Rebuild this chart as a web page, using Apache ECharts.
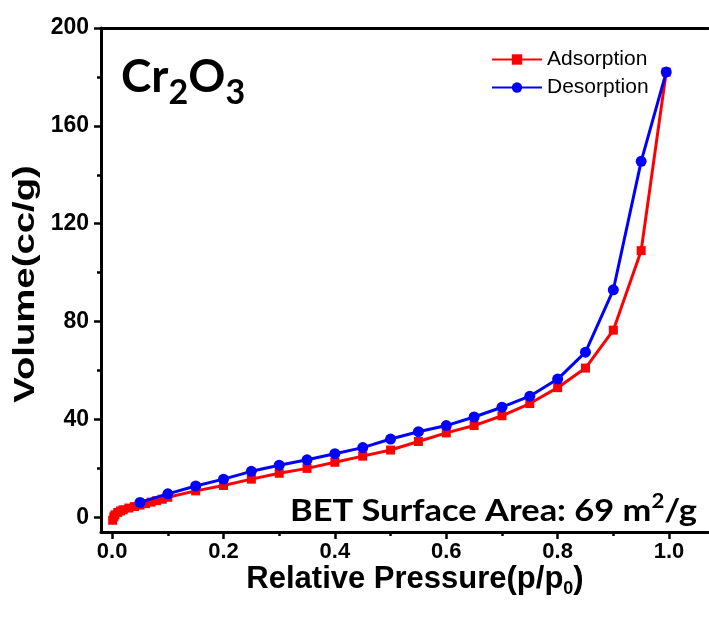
<!DOCTYPE html>
<html>
<head>
<meta charset="utf-8">
<script src="https://cdn.jsdelivr.net/npm/echarts@6/dist/echarts.min.js"></script>
<style>html,body{margin:0;padding:0;background:#fff}#c{width:709px;height:625px}</style>
</head>
<body>
<div id="c"></div>
<script>
// ---- data ----
const pressureAds = [0.001,0.003,0.005,0.01,0.015,0.02,0.03,0.04,0.05,0.06,0.07,0.08,0.09,0.1,0.15,0.2,0.25,0.3,0.35,0.4,0.45,0.5,0.55,0.6,0.65,0.7,0.75,0.8,0.85,0.9,0.95,0.995];
const volumeAds   = [-1.2,0.2,1,2,2.6,3.1,3.8,4.4,5,5.6,6.2,6.8,7.4,8.2,10.8,13,15.6,18,20,22.5,25,27.5,31,34.5,37.5,41.5,46.5,53,61,76.5,109,182];
const pressureDes = [0.995,0.95,0.9,0.85,0.8,0.75,0.7,0.65,0.6,0.55,0.5,0.45,0.4,0.35,0.3,0.25,0.2,0.15,0.1,0.05];
const volumeDes   = [182,145.5,93,67.5,56.5,49.5,45,41,37.5,35,32,28.5,26,23.5,21.3,18.8,15.6,12.8,9.6,6.1];
const xMajorTicks = [0,0.2,0.4,0.6,0.8,1.0];
const xMinorTicks = [0.1,0.3,0.5,0.7,0.9];
const yMajorTicks = [0,40,80,120,160,200];
const yMinorTicks = [20,60,100,140,180];
const seriesNames = ['Adsorption','Desorption'];
const xTitle = 'Relative Pressure(p/p{s|0})';
const yTitle = 'Volume(cc/g)';
const sampleLabel = 'Cr{s|2}O{s|3}';
const betLabel = 'BET Surface Area: 69 m{p|2}/g';

const chart = echarts.init(document.getElementById('c'), null, {renderer:'canvas'});
const AX = '"Liberation Sans", Arial, sans-serif';
const CAL = 'Lato, "Open Sans", sans-serif';
const grid = {left:101, top:28, right:1, bottom:93, outerBoundsMode:'none', containLabel:false};
const xr = {min:-0.02, max:1.07};
const yr = {min:-6, max:200};
const lineBlack = {show:true, onZero:false, lineStyle:{color:'#000', width:3}};
const tickStyle = {color:'#000', width:2.5};

function pairs(xs, ys){ return xs.map((x,i)=>[x, ys[i]]); }

chart.setOption({
  animation:false,
  backgroundColor:'#fff',
  grid: grid,
  legend:{
    orient:'vertical', left:486, top:44, itemWidth:50, itemHeight:13, itemGap:7,
    textStyle:{fontFamily:AX, fontSize:21, color:'#000'},
    data: seriesNames
  },
  xAxis:[
    {type:'value', ...xr, position:'bottom',
     axisLine:lineBlack,
     axisTick:{show:true, inside:false, length:7, customValues:xMajorTicks, lineStyle:tickStyle},
     axisLabel:{customValues:xMajorTicks, formatter:v=>v.toFixed(1), margin:9, fontFamily:AX, fontWeight:'bold', fontSize:22, color:'#000'},
     splitLine:{show:false}
    },
    {type:'value', ...xr, position:'bottom',
     axisLine:{show:false, onZero:false},
     axisTick:{show:true, length:4, customValues:xMinorTicks, lineStyle:tickStyle},
     axisLabel:{show:false}, splitLine:{show:false}
    },
    {type:'value', ...xr, position:'top',
     axisLine:lineBlack, axisTick:{show:false}, axisLabel:{show:false}, splitLine:{show:false}
    }
  ],
  yAxis:[
    {type:'value', ...yr, position:'left',
     axisLine:lineBlack,
     axisTick:{show:true, length:7, customValues:yMajorTicks, lineStyle:tickStyle},
     axisLabel:{customValues:yMajorTicks, margin:12, fontFamily:AX, fontWeight:'bold', fontSize:23, color:'#000'},
     splitLine:{show:false}
    },
    {type:'value', ...yr, position:'left',
     axisLine:{show:false, onZero:false},
     axisTick:{show:true, length:4, customValues:yMinorTicks, lineStyle:tickStyle},
     axisLabel:{show:false}, splitLine:{show:false}
    }
  ],
  series:[
    {name:seriesNames[0], type:'line', xAxisIndex:0, yAxisIndex:0, data:pairs(pressureAds, volumeAds),
     symbol:'rect', symbolSize:9, color:'#ff0000', lineStyle:{width:3, color:'#ff0000'}, itemStyle:{color:'#ff0000'}, z:2},
    {name:seriesNames[1], type:'line', xAxisIndex:0, yAxisIndex:0, data:pairs(pressureDes, volumeDes),
     symbol:'circle', symbolSize:11, color:'#0000ff', lineStyle:{width:3, color:'#0000ff'}, itemStyle:{color:'#0000ff'}, z:3}
  ],
  graphic:[
    {type:'text', x:121, y:44, z:10,
     style:{text:sampleLabel, fontFamily:CAL, fontWeight:'bold', fontSize:46, fill:'#000',
       rich:{s:{fontFamily:CAL, fontWeight:'bold', fontSize:34, fill:'#000', padding:[32,0,0,0]}}}},
    {type:'text', x:697, y:511, scaleX:1.11, z:10,
     style:{text:betLabel, fontFamily:CAL, fontWeight:'bold', fontSize:31, fill:'#000',
       align:'right', textAlign:'right', verticalAlign:'middle', textVerticalAlign:'middle',
       rich:{p:{fontFamily:CAL, fontWeight:'bold', fontSize:20, fill:'#000', padding:[0,0,18,0]}}}},
    {type:'text', x:415, y:579, z:10,
     style:{text:xTitle, fontFamily:AX, fontWeight:'bold', fontSize:31, fill:'#000',
       align:'center', textAlign:'center', verticalAlign:'middle', textVerticalAlign:'middle',
       rich:{s:{fontFamily:AX, fontWeight:'bold', fontSize:18, fill:'#000', padding:[20,0,0,0]}}}},
    {type:'text', x:26, y:284, rotation:Math.PI/2, scaleX:1.32, z:10,
     style:{text:yTitle, fontFamily:AX, fontWeight:'bold', fontSize:29, fill:'#000',
       align:'center', textAlign:'center', verticalAlign:'middle', textVerticalAlign:'middle'}}
  ]
});
</script>
</body>
</html>
